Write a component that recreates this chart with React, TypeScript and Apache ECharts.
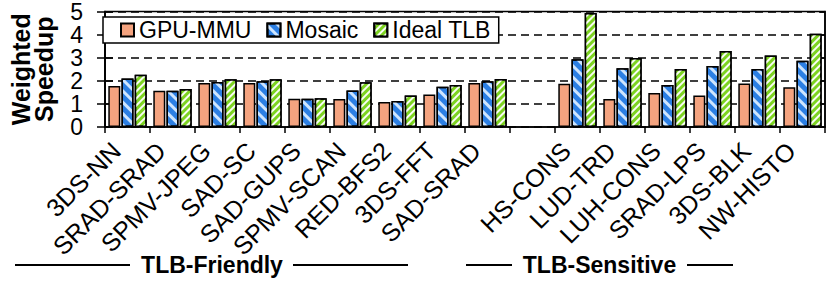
import React, { useEffect, useRef } from "react";
import * as echarts from "echarts";

const categories = [
  "3DS-NN", "SRAD-SRAD", "SPMV-JPEG", "SAD-SC", "SAD-GUPS", "SPMV-SCAN", "RED-BFS2", "3DS-FFT", "SAD-SRAD",
  "",
  "HS-CONS", "LUD-TRD", "LUH-CONS", "SRAD-LPS", "3DS-BLK", "NW-HISTO",
];
const gpuMmu = [1.77, 1.57, 1.91, 1.91, 1.22, 1.21, 1.08, 1.41, 1.90, null, 1.87, 1.21, 1.47, 1.36, 1.88, 1.72];
const mosaic = [2.10, 1.57, 1.95, 1.98, 1.22, 1.58, 1.13, 1.74, 1.98, null, 2.93, 2.54, 1.82, 2.64, 2.51, 2.87];
const idealTlb = [2.26, 1.65, 2.07, 2.07, 1.25, 1.94, 1.36, 1.82, 2.08, null, 4.93, 2.99, 2.51, 3.29, 3.09, 4.04];
const seriesNames = ["GPU-MMU", "Mosaic", "Ideal TLB"];
const yTicks = [0, 1, 2, 3, 4, 5];
const groupLabels = ["TLB-Friendly", "TLB-Sensitive"];

const FONT = "Liberation Sans, Arial, Helvetica, sans-serif";

export default function App() {
  const ref = useRef<HTMLDivElement>(null);
  useEffect(() => {
    if (!ref.current) return;
    const chart = echarts.init(ref.current, null, { renderer: "svg" });
    const border = { borderColor: "#000", borderWidth: 1.5 };
    const option = {
      animation: false,
      backgroundColor: "#fff",
      textStyle: { fontFamily: FONT, color: "#000" },
      grid: { left: 95, right: 6, top: 11, bottom: 154, show: true, borderColor: "#000", borderWidth: 1.5, containLabel: false },
      legend: {
        left: 103,
        top: 17,
        data: seriesNames,
        orient: "horizontal",
        backgroundColor: "#fff",
        borderColor: "#000",
        borderWidth: 1.5,
        borderRadius: 0,
        padding: [1, 8, 1, 17],
        itemWidth: 13,
        itemHeight: 13,
        itemGap: 15,
        textStyle: { fontSize: 23, fontFamily: FONT, color: "#000", lineHeight: 24 },
        icon: "rect",
      },
      xAxis: {
        type: "category",
        data: categories,
        axisLine: { lineStyle: { color: "#000", width: 1.5 } },
        axisTick: { show: true, length: 6, lineStyle: { color: "#000", width: 1.5 } },
        axisLabel: { rotate: 45, fontSize: 25, color: "#000", margin: 8, padding: [0, 16, 0, 0], interval: 0, fontFamily: FONT },
        splitLine: { show: false },
      },
      yAxis: [
        {
          type: "value", min: 0, max: 5, interval: 1, position: "left",
          name: "Weighted\nSpeedup", nameLocation: "middle", nameGap: 50, nameRotate: 90, nameMoveOverlap: false,
          nameTextStyle: { fontSize: 25, fontWeight: "bold", lineHeight: 23, color: "#000", fontFamily: FONT },
          axisLine: { show: true, lineStyle: { color: "#000", width: 1.5 } },
          axisTick: { show: true, length: 8, lineStyle: { color: "#000", width: 1.5 } },
          axisLabel: { fontSize: 23, lineHeight: 20, color: "#000", margin: 17, padding: [0, 5, 0, 0], fontFamily: FONT, formatter: (v: number) => (yTicks.includes(v) ? String(v) : "") },
          splitLine: { show: true, lineStyle: { color: "#000", width: 1.5, type: [8, 5] } },
        },
        {
          type: "value", min: 0, max: 5, interval: 1, position: "left",
          axisLine: { show: true, lineStyle: { color: "#000", width: 1.5 } },
          axisTick: { show: true, inside: true, length: 8, lineStyle: { color: "#000", width: 1.5 } },
          axisLabel: { show: false },
          splitLine: { show: false },
        },
        {
          type: "value", min: 0, max: 5, interval: 1, position: "right",
          axisLine: { show: true, lineStyle: { color: "#000", width: 1.5 } },
          axisTick: { show: true, inside: true, length: 6, lineStyle: { color: "#000", width: 1.5 } },
          axisLabel: { show: false },
          splitLine: { show: false },
        },
      ],
      series: [
        {
          name: seriesNames[0], type: "bar", data: gpuMmu, barWidth: 12, barGap: "10%",
          itemStyle: { color: "#F4A37F", ...border },
        },
        {
          name: seriesNames[1], type: "bar", data: mosaic, barWidth: 12, barGap: "10%",
          itemStyle: {
            color: "#2C7FE3", ...border,
            decal: { symbol: "rect", symbolSize: 1, color: "rgba(215,235,255,0.95)", dashArrayX: [1, 0], dashArrayY: [2.5, 4.5], rotation: Math.PI / 4 },
          },
        },
        {
          name: seriesNames[2], type: "bar", data: idealTlb, barWidth: 12, barGap: "10%",
          itemStyle: {
            color: "#7DD321", ...border,
            decal: { symbol: "rect", symbolSize: 1, color: "rgba(255,255,255,0.95)", dashArrayX: [1, 0], dashArrayY: [1.5, 2.5], rotation: -Math.PI / 4 },
          },
        },
      ],
      graphic: [
        { type: "line", shape: { x1: 15, y1: 265, x2: 130, y2: 265 }, style: { stroke: "#000", lineWidth: 2 } },
        { type: "line", shape: { x1: 293, y1: 265, x2: 408, y2: 265 }, style: { stroke: "#000", lineWidth: 2 } },
        { type: "text", x: 212, y: 265, style: { text: groupLabels[0], font: `bold 23px ${FONT}`, fill: "#000", align: "center", verticalAlign: "middle" } },
        { type: "line", shape: { x1: 466, y1: 265, x2: 512, y2: 265 }, style: { stroke: "#000", lineWidth: 2 } },
        { type: "line", shape: { x1: 687, y1: 265, x2: 733, y2: 265 }, style: { stroke: "#000", lineWidth: 2 } },
        { type: "text", x: 599.5, y: 265, style: { text: groupLabels[1], font: `bold 23px ${FONT}`, fill: "#000", align: "center", verticalAlign: "middle" } },
      ],
    };
    chart.setOption(option as any);
    return () => chart.dispose();
  }, []);
  return <div ref={ref} style={{ position: "fixed", left: 0, top: 0, width: 831, height: 281 }} />;
}
